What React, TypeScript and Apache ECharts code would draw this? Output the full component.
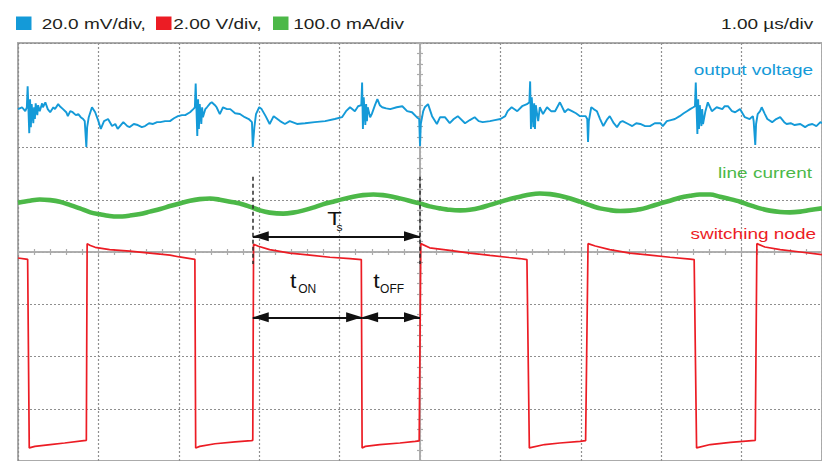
import React, { useEffect, useRef } from "react";
import * as echarts from "echarts";

// ---- text ----
const channelScales = ["20.0 mV/div,", "2.00 V/div,", "100.0 mA/div"];
const timebase = "1.00 µs/div";
const traceLabels = ["output voltage", "line current", "switching node"];

// ---- channel settings (units per division, screen position of the channel zero in divisions) ----
const outPerDiv = 20; // mV/div
const outZeroDiv = 2.6;
const linePerDiv = 100; // mA/div
const lineZeroDiv = 0.9;
const swPerDiv = 2; // V/div
const swZeroDiv = -3.7;

// switching instants used by the annotations (µs, trigger at 0)
const switchEdges = { rise1: -2.08, fall: -0.72, rise2: 0 };

// output voltage ripple [time µs, mV]
const outputVoltage = [
  [-5.0, 2.7], [-4.95, 3.4], [-4.91, 1.9], [-4.89, 3.4], [-4.88, 11.4], [-4.86, -6.5], [-4.85, 6.5], [-4.84, -4.2],
  [-4.83, 4.6], [-4.81, -2.7], [-4.8, 3.4], [-4.79, -1.1], [-4.78, 4.9], [-4.76, 0.4], [-4.75, 4.2], [-4.73, 1.9],
  [-4.7, 4.9], [-4.69, 3.4], [-4.66, 5.3], [-4.63, 2.7], [-4.6, 1.5], [-4.56, 3.4], [-4.54, 2.7], [-4.5, 4.6],
  [-4.48, 3.8], [-4.44, 2.7], [-4.4, 1.5], [-4.38, 0], [-4.35, 1.9], [-4.32, 1.5], [-4.28, 0.4], [-4.25, 0.8],
  [-4.22, -0.4], [-4.19, -1.1], [-4.17, -1.9], [-4.15, -11.8], [-4.14, -4.2], [-4.12, -0.4], [-4.08, 3.4], [-4.04, 1.5],
  [-4.0, -1.9], [-3.97, -4.9], [-3.93, -1.9], [-3.88, -1.1], [-3.83, -3.8], [-3.79, -3.0], [-3.76, -4.9], [-3.69, -2.3],
  [-3.64, -3.8], [-3.61, -4.2], [-3.56, -3.0], [-3.51, -3.4], [-3.46, -4.2], [-3.42, -3.8], [-3.37, -2.7], [-3.32, -3.0],
  [-3.27, -2.3], [-3.23, -2.3], [-3.17, -1.9], [-3.11, -1.9], [-3.06, -0.8], [-3.01, 0], [-2.96, 0.4], [-2.92, 0.4],
  [-2.86, 1.5], [-2.82, 2.7], [-2.8, 3.4], [-2.79, 12.5], [-2.77, -7.6], [-2.76, 6.5], [-2.75, -4.9], [-2.74, 4.6],
  [-2.72, -3.0], [-2.71, 3.4], [-2.7, -0.4], [-2.67, 2.7], [-2.65, 3.4], [-2.61, 4.9], [-2.59, 5.3], [-2.55, 4.2],
  [-2.53, 3.4], [-2.49, 0.8], [-2.45, 3.4], [-2.4, 2.7], [-2.36, 2.7], [-2.3, 1.1], [-2.24, 0.8], [-2.18, -0.4],
  [-2.13, -1.1], [-2.09, -2.3], [-2.08, -11.8], [-2.06, -4.2], [-2.04, 0.8], [-2.0, 3.4], [-1.97, 2.7], [-1.92, 0],
  [-1.87, -3.0], [-1.82, 0], [-1.74, -1.9], [-1.68, -3.0], [-1.62, -1.9], [-1.53, -3.0], [-1.43, -2.7], [-1.31, -2.3],
  [-1.18, -1.9], [-1.06, -1.1], [-0.97, -0.4], [-0.92, 1.9], [-0.87, 3.4], [-0.81, 1.9], [-0.77, 3.8], [-0.73, 4.2],
  [-0.72, 12.9], [-0.71, -4.9], [-0.7, 7.2], [-0.68, -3.4], [-0.67, 4.6], [-0.66, -1.9], [-0.65, 3.4], [-0.62, -0.4],
  [-0.6, 0.8], [-0.56, 4.2], [-0.53, 6.5], [-0.5, 4.2], [-0.47, 3.4], [-0.42, 3.0], [-0.37, 2.7], [-0.29, 3.4],
  [-0.22, 3.8], [-0.16, 1.9], [-0.1, 1.5], [-0.04, -0.4], [-0.01, -1.1], [0.0, -11.4], [0.01, -3.0], [0.04, 1.9],
  [0.06, 3.4], [0.1, 4.6], [0.15, 0], [0.21, -3.0], [0.25, -0.4], [0.31, -0.4], [0.37, -2.7], [0.42, -1.1],
  [0.47, 0], [0.56, -2.7], [0.62, -1.5], [0.68, -0.4], [0.73, -1.9], [0.78, -2.3], [0.87, -1.9], [0.93, -1.5],
  [1.0, -1.1], [1.06, 0], [1.09, 1.9], [1.14, 3.4], [1.21, 1.9], [1.27, 3.8], [1.33, 4.6], [1.36, 5.3],
  [1.37, 13.3], [1.38, -4.9], [1.39, 7.2], [1.41, -4.2], [1.42, 4.9], [1.43, -4.9], [1.44, 4.2], [1.47, -1.9],
  [1.49, 3.4], [1.53, 0.8], [1.58, 3.4], [1.63, 1.9], [1.68, 1.9], [1.74, 5.3], [1.8, 1.5], [1.84, 2.7],
  [1.89, 1.9], [1.94, 1.1], [1.99, 0], [2.06, 0], [2.08, -1.1], [2.09, -9.9], [2.1, -1.9], [2.13, 3.4],
  [2.16, 2.7], [2.2, 1.9], [2.24, -1.1], [2.28, -3.8], [2.33, -1.1], [2.36, 0], [2.41, -2.7], [2.45, -4.2],
  [2.49, -2.3], [2.52, -1.9], [2.59, -3.0], [2.64, -3.8], [2.69, -2.7], [2.74, -3.0], [2.8, -3.8], [2.86, -3.8],
  [2.92, -2.7], [2.99, -2.7], [3.02, -3.8], [3.07, -1.9], [3.12, -1.5], [3.17, -1.1], [3.23, 0], [3.28, 1.1],
  [3.32, 1.9], [3.36, 2.7], [3.4, 3.4], [3.42, 3.8], [3.43, 12.9], [3.45, -6.8], [3.46, 6.5], [3.47, -4.9],
  [3.48, 4.2], [3.5, -3.8], [3.51, 2.7], [3.52, -3.0], [3.55, 1.9], [3.58, 5.3], [3.63, 1.9], [3.69, 3.4],
  [3.76, 2.7], [3.79, 3.8], [3.83, 3.8], [3.88, 1.9], [3.92, 1.5], [3.98, 2.7], [4.04, -0.4], [4.1, -1.1],
  [4.14, 0], [4.15, -1.9], [4.17, -11.0], [4.18, -3.0], [4.2, 0.8], [4.23, 1.9], [4.25, 3.4], [4.29, 0.8],
  [4.32, -1.1], [4.38, -2.3], [4.43, -1.1], [4.48, -0.4], [4.53, -2.3], [4.56, -3.0], [4.61, -2.7], [4.66, -3.4],
  [4.73, -3.0], [4.79, -4.2], [4.83, -3.4], [4.88, -3.0], [4.93, -3.8], [4.98, -2.3], [5.0, -2.7],
];

// line current ripple [time µs, mA]
const lineCurrent = [
  [-5.0, 4.4], [-4.85, 8.2], [-4.73, 10.6], [-4.6, 9.3], [-4.48, 6.3], [-4.35, -0.2], [-4.23, -6.5], [-4.1, -14.1],
  [-3.98, -17.9], [-3.86, -21.1], [-3.76, -22.2], [-3.61, -20.3], [-3.48, -17.3], [-3.36, -12.7], [-3.23, -7.8],
  [-3.11, -2.1], [-2.99, 3.0], [-2.86, 8.2], [-2.74, 11.2], [-2.61, 12.5], [-2.49, 10.1], [-2.36, 6.3], [-2.24, 3.0],
  [-2.11, -3.6], [-1.99, -10.3], [-1.87, -14.6], [-1.7, -16.5], [-1.58, -14.6], [-1.46, -10.8], [-1.33, -5.1],
  [-1.21, 1.1], [-1.08, 6.3], [-0.96, 11.2], [-0.83, 15.8], [-0.71, 18.8], [-0.58, 20.1], [-0.46, 18.8], [-0.34, 15.8],
  [-0.21, 11.2], [-0.09, 6.3], [0.0, 3.0], [0.12, -2.7], [0.25, -6.5], [0.37, -9.3], [0.5, -10.3], [0.62, -9.3],
  [0.75, -5.5], [0.87, 0.2], [1.0, 5.9], [1.12, 11.6], [1.24, 15.8], [1.37, 20.1], [1.49, 22.0], [1.62, 20.7],
  [1.74, 17.7], [1.87, 12.5], [1.99, 6.3], [2.11, -0.2], [2.24, -6.5], [2.36, -9.7], [2.49, -11.6], [2.61, -10.8],
  [2.74, -8.4], [2.86, -3.2], [2.99, 3.0], [3.11, 8.2], [3.23, 13.9], [3.36, 17.7], [3.48, 20.1], [3.61, 20.1],
  [3.73, 15.8], [3.86, 11.2], [3.98, 6.3], [4.1, -0.2], [4.23, -6.5], [4.35, -10.8], [4.48, -13.5], [4.6, -14.1],
  [4.73, -12.7], [4.85, -9.7], [5.0, -6.5],
];

// switching node [time µs, V]
const switchingNode = [
  [-5.0, 7.17], [-4.9, 7.13], [-4.88, 7.12], [-4.86, -0.1], [-4.79, -0.04], [-4.6, 0.03], [-4.42, 0.09], [-4.18, 0.18],
  [-4.15, 0.19], [-4.14, 7.72], [-4.1, 7.65], [-4.04, 7.58], [-3.86, 7.49], [-3.61, 7.43], [-3.36, 7.36], [-3.11, 7.28],
  [-2.99, 7.21], [-2.82, 7.13], [-2.8, 7.12], [-2.79, -0.1], [-2.74, -0.04], [-2.55, 0.06], [-2.3, 0.13], [-2.1, 0.18],
  [-2.08, 0.19], [-2.07, 7.7], [-2.01, 7.62], [-1.87, 7.49], [-1.62, 7.36], [-1.37, 7.28], [-1.12, 7.2], [-0.87, 7.15],
  [-0.73, 7.11], [-0.72, -0.1], [-0.68, -0.04], [-0.5, 0.03], [-0.25, 0.09], [-0.06, 0.15], [-0.01, 0.17], [0.01, 7.72],
  [0.12, 7.56], [0.37, 7.46], [0.62, 7.36], [0.87, 7.27], [1.11, 7.19], [1.24, 7.15], [1.33, 7.11], [1.36, -0.1],
  [1.55, 0.03], [1.74, 0.09], [1.99, 0.15], [2.06, 0.18], [2.09, 7.72], [2.18, 7.63], [2.36, 7.49], [2.61, 7.36],
  [2.86, 7.28], [3.11, 7.2], [3.36, 7.13], [3.41, 7.11], [3.44, -0.1], [3.61, 0.03], [3.86, 0.11], [4.13, 0.18],
  [4.17, 0.19], [4.19, 7.72], [4.29, 7.59], [4.48, 7.49], [4.73, 7.4], [5.0, 7.3],
];

const BLUE = "#149ad8";
const GREEN = "#4cb848";
const RED = "#ec1c24";
const FONT = "'Liberation Sans', Arial, Helvetica, sans-serif";

export default function App() {
  const ref = useRef<HTMLDivElement>(null);

  useEffect(() => {
    document.body.style.margin = "0";
    const el = ref.current;
    if (!el) return;
    const chart = echarts.init(el, null, { renderer: "svg" });

    const toScreen = (pts: number[][], perDiv: number, zero: number) =>
      pts.map(([t, v]) => [t, v / perDiv + zero]);

    const axisGray = "#ababab";
    const gridDot = { color: "#8f8f8f", width: 1.2, type: [2, 2] };
    const makeAxis = (position: string, min: number, max: number, grid: boolean) => ({
      type: "value",
      position,
      min,
      max,
      interval: 1,
      axisLine: { show: true, onZero: true, onZeroAxisIndex: 0, lineStyle: { color: axisGray, width: 1.6 } },
      axisTick: { show: true, inside: false, length: 3, lineStyle: { color: axisGray, width: 1.2 } },
      minorTick: { show: true, splitNumber: 5, length: 3, lineStyle: { color: axisGray, width: 1.2 } },
      axisLabel: { show: false },
      splitLine: { show: grid, lineStyle: gridDot },
      minorSplitLine: { show: false },
    });

    const tsY = 0.3; // Ts arrow level (div)
    const tonY = -1.25; // ton / toff arrow level (div)
    const dashTop = 1.44;
    const dashBottom = -0.23;
    const { rise1, fall, rise2 } = switchEdges;

    chart.setOption({
      animation: false,
      grid: {
        left: 18,
        top: 43,
        width: 804,
        height: 421.6,
        show: true,
        borderColor: axisGray,
        borderWidth: 2,
        backgroundColor: "transparent",
      },
      xAxis: [makeAxis("bottom", -5, 5, true), makeAxis("top", -5, 5, false)],
      yAxis: [makeAxis("left", -4, 4, true), makeAxis("right", -4, 4, false)],
      series: [
        {
          name: traceLabels[0],
          type: "line",
          data: toScreen(outputVoltage, outPerDiv, outZeroDiv),
          symbol: "none",
          silent: true,
          lineStyle: { color: BLUE, width: 1.9 },
          z: 3,
          markLine: {
            silent: true,
            animation: false,
            symbol: "none",
            label: { show: false },
            lineStyle: { color: "#2b2b2b", width: 1.5, type: [4, 3] },
            data: [
              [{ coord: [rise1, dashTop] }, { coord: [rise1, dashBottom] }],
              [{ coord: [rise2, dashTop] }, { coord: [rise2, dashBottom] }],
            ],
          },
        },
        {
          name: traceLabels[1],
          type: "line",
          data: toScreen(lineCurrent, linePerDiv, lineZeroDiv),
          symbol: "none",
          silent: true,
          smooth: 0.3,
          lineStyle: { color: GREEN, width: 4.6 },
          z: 3,
          markLine: {
            silent: true,
            animation: false,
            symbol: ["triangle", "triangle"],
            symbolSize: [10, 16],
            symbolOffset: [[0, 8], [0, 8]],
            label: { show: false },
            itemStyle: { color: "#111" },
            lineStyle: { color: "#111", width: 1.8, type: "solid" },
            data: [
              [{ coord: [rise1, tsY] }, { coord: [rise2, tsY] }],
              [{ coord: [rise1, tonY] }, { coord: [fall, tonY] }],
              [{ coord: [fall, tonY] }, { coord: [rise2, tonY] }],
            ],
          },
        },
        {
          name: traceLabels[2],
          type: "line",
          data: toScreen(switchingNode, swPerDiv, swZeroDiv),
          symbol: "none",
          silent: true,
          lineStyle: { color: RED, width: 1.7 },
          z: 4,
        },
      ],
    });

    const px = (t: number, d: number) =>
      chart.convertToPixel({ xAxisIndex: 0, yAxisIndex: 0 }, [t, d]) as number[];
    const [xR1, yTs] = px(rise1, tsY);
    const [xF, yOn] = px(fall, tonY);
    const [xR2] = px(rise2, tonY);
    const midTs = (xR1 + xR2) / 2;
    const midOn = (xR1 + xF) / 2;
    const midOff = (xF + xR2) / 2;

    const txt = (text: string, x: number, y: number, size: number, fill: string, align = "left", sx = 1.25) => ({
      type: "text",
      x,
      y,
      scaleX: sx,
      silent: true,
      style: { text, fill, font: `${size}px ${FONT}`, align, verticalAlign: "middle" },
    });
    const square = (x: number, fill: string) => ({
      type: "rect",
      silent: true,
      shape: { x, y: 16.5, width: 15.5, height: 13.5 },
      style: { fill },
    });

    chart.setOption({
      graphic: [
        square(16, BLUE),
        txt(channelScales[0], 41.7, 24, 15.2, "#231f20"),
        square(156, RED),
        txt(channelScales[1], 173.3, 24, 15.2, "#231f20"),
        square(273, GREEN),
        txt(channelScales[2], 293.3, 24, 15.2, "#231f20"),
        txt(timebase, 813.3, 24, 15.2, "#231f20", "right"),
        txt(traceLabels[0], 813, 69.7, 15.2, BLUE, "right"),
        txt(traceLabels[1], 812, 172.4, 15.2, GREEN, "right"),
        txt(traceLabels[2], 816, 234, 15.2, RED, "right"),
        // annotations
        txt("T", midTs - 9.2, yTs - 18, 19, "#111"),
        txt("s", midTs + 0.2, yTs - 9.1, 11, "#111", "left", 1.1),
        txt("t", midOn - 17.5, yOn - 36.6, 21, "#111", "left", 1.1),
        txt("ON", midOn - 9.2, yOn - 28.2, 12, "#111", "left", 1.0),
        txt("t", midOff - 17.7, yOn - 36.6, 21, "#111", "left", 1.1),
        txt("OFF", midOff - 11, yOn - 28.2, 12, "#111", "left", 1.0),
      ],
    });

    return () => chart.dispose();
  }, []);

  return <div ref={ref} style={{ width: 822, height: 461 }} />;
}
